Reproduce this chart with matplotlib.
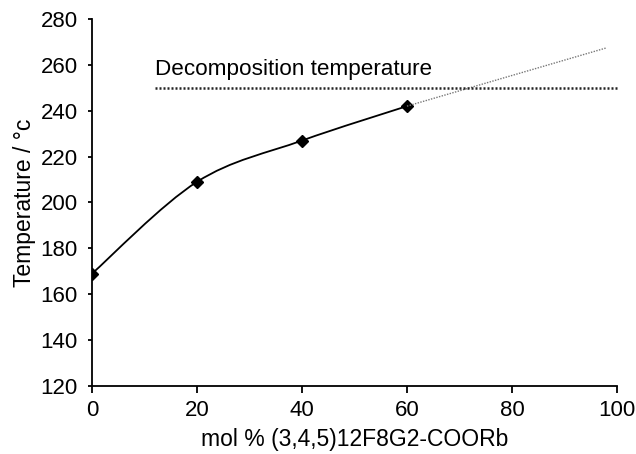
import matplotlib
matplotlib.use("Agg")
import matplotlib.pyplot as plt
from matplotlib.path import Path
from matplotlib.patches import PathPatch

plt.rcParams["font.family"] = ["Liberation Sans", "DejaVu Sans"]

# data
mol_pct = [0, 20, 40, 60]
temp = [169, 209, 227, 242]
extrap_x = [60, 98]
extrap_y = [242, 267.4]
decomp_temp = 250
decomp_x = [12, 100]

fig = plt.figure(figsize=(6.36, 4.54), dpi=100)
ax = fig.add_axes([0.1447, 0.1498, 0.8253, 0.8084])

# smoothed line through the points (excel-like bezier)
verts = [(mol_pct[0], temp[0])]
codes = [Path.MOVETO]
n = len(mol_pct)
for i in range(n - 1):
    x0, y0 = mol_pct[max(i - 1, 0)], temp[max(i - 1, 0)]
    x1, y1 = mol_pct[i], temp[i]
    x2, y2 = mol_pct[i + 1], temp[i + 1]
    x3, y3 = mol_pct[min(i + 2, n - 1)], temp[min(i + 2, n - 1)]
    c1 = (x1 + (x2 - x0) / 6, y1 + (y2 - y0) / 6)
    c2 = (x2 - (x3 - x1) / 6, y2 - (y3 - y1) / 6)
    verts += [c1, c2, (x2, y2)]
    codes += [Path.CURVE4] * 3
ax.add_patch(PathPatch(Path(verts, codes), facecolor="none", edgecolor="black", lw=1.3))
ax.plot(mol_pct, temp, linestyle="none", marker="D", markersize=6, color="black")

ax.plot(extrap_x, extrap_y, color="#777777", lw=1.0, linestyle=(0, (1, 1)))
ax.plot(decomp_x, [decomp_temp] * 2, color="#222222", lw=1.8, linestyle=(0, (0.8, 0.8)),
        clip_on=False)
ax.text(12, 253.5, "Decomposition temperature", fontsize=16.2, ha="left", va="bottom")

ax.set_xlim(0, 100)
ax.set_ylim(120, 280)
ax.set_xticks(range(0, 101, 20))
ax.set_yticks(range(120, 281, 20))
ax.spines["top"].set_visible(False)
ax.spines["right"].set_visible(False)
ax.spines["left"].set_linewidth(1.3)
ax.spines["bottom"].set_linewidth(1.3)
ax.tick_params(axis="x", direction="out", length=5, width=1.3, labelsize=16, pad=5)
ax.tick_params(axis="y", direction="out", length=3, width=1.3, labelsize=16, pad=7.2)
ax.set_xlabel("mol % (3,4,5)12F8G2-COORb", fontsize=16.5, labelpad=5.3)
ax.set_ylabel("Temperature / °c", fontsize=16.5, labelpad=3)

fig.savefig("out.png", dpi=100)
